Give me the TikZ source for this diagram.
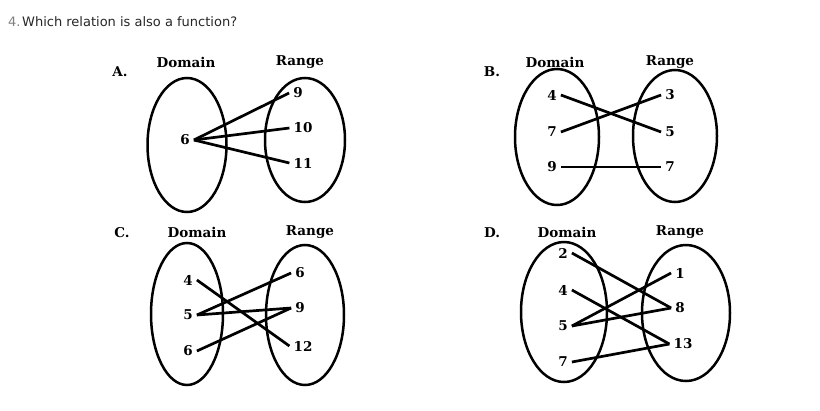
\documentclass[tikz,border=0pt]{standalone}
\usepackage{fontspec}
\newfontfamily\titlefont{DejaVu Sans}
\newfontfamily\lblfont{DejaVu Serif}
\begin{document}
\begin{tikzpicture}[x=1pt,y=-1pt,
  lbl/.style={font=\lblfont\bfseries\fontsize{13.5}{16}\selectfont, inner sep=4pt},
  set/.style={line width=2.5pt},
  map/.style={line width=2.7pt}]
  \useasboundingbox (0,0) rectangle (820,410);
  %%%%% TITLE %%%%%
  \node[anchor=west, inner sep=0, font=\titlefont\fontsize{13}{15}\selectfont, text=black!50] (qnum) at (8,22) {4.};
  \node[anchor=west, inner sep=0, font=\titlefont\fontsize{13}{15}\selectfont, text=black!85] (qtext) at (22,22) {Which relation is also a function?};

  %%%%% A %%%%%
  \node[lbl] (Alet) at (120,72) {A.};
  \node[lbl] (Adom) at (186,62) {Domain};
  \node[lbl] (Aran) at (300,62) {Range};
  \draw[set] (187,145) ellipse [x radius=39.5pt, y radius=67pt];
  \draw[set] (305,140) ellipse [x radius=40pt, y radius=62pt];
  \node[lbl] (A6) at (185,140) {6};
  \node[lbl] (A9) at (298,93) {9};
  \node[lbl] (A10) at (303,128) {10};
  \node[lbl] (A11) at (303,163) {11};
  \draw[map] (A6.east) -- (A9.west);
  \draw[map] (A6.east) -- (A10.west);
  \draw[map] (A6.east) -- (A11.west);

  %%%%% B %%%%%
  \node[lbl] (Blet) at (492,72) {B.};
  \node[lbl] (Bdom) at (555,62) {Domain};
  \node[lbl] (Bran) at (670,62) {Range};
  \draw[set] (557,137) ellipse [x radius=42pt, y radius=68pt];
  \draw[set] (675,136) ellipse [x radius=42pt, y radius=66pt];
  \node[lbl] (B4) at (552,95) {4};
  \node[lbl] (B7) at (552,132) {7};
  \node[lbl] (B9) at (552,167) {9};
  \node[lbl] (Br3) at (670,95) {3};
  \node[lbl] (Br5) at (670,132) {5};
  \node[lbl] (Br7) at (670,167) {7};
  \draw[map] (B4.east) -- (Br5.west);
  \draw[map] (B7.east) -- (Br3.west);
  \draw[map] (B9.east) -- (Br7.west);

  %%%%% C %%%%%
  \node[lbl] (Clet) at (122,233) {C.};
  \node[lbl] (Cdom) at (197,232) {Domain};
  \node[lbl] (Cran) at (310,232) {Range};
  \draw[set] (187,314) ellipse [x radius=36pt, y radius=71pt];
  \draw[set] (305,315) ellipse [x radius=39pt, y radius=70pt];
  \node[lbl] (C4) at (188,280) {4};
  \node[lbl] (C5) at (188,315) {5};
  \node[lbl] (C6) at (188,351) {6};
  \node[lbl] (Cr6) at (300,273) {6};
  \node[lbl] (Cr9) at (300,308) {9};
  \node[lbl] (Cr12) at (303,346) {12};
  \draw[map] (C4.east) -- (Cr12.west);
  \draw[map] (C5.east) -- (Cr6.west);
  \draw[map] (C5.east) -- (Cr9.west);
  \draw[map] (C6.east) -- (Cr9.west);

  %%%%% D %%%%%
  \node[lbl] (Dlet) at (492,233) {D.};
  \node[lbl] (Ddom) at (567,232) {Domain};
  \node[lbl] (Dran) at (680,232) {Range};
  \draw[set] (564,312) ellipse [x radius=43pt, y radius=70pt];
  \draw[set] (686,313) ellipse [x radius=44pt, y radius=68pt];
  \node[lbl] (D2) at (563,253) {2};
  \node[lbl] (D4) at (563,290) {4};
  \node[lbl] (D5) at (563,326) {5};
  \node[lbl] (D7) at (563,362) {7};
  \node[lbl] (Dr1) at (680,273) {1};
  \node[lbl] (Dr8) at (680,308) {8};
  \node[lbl] (Dr13) at (683,344) {13};
  \draw[map] (D2.east) -- (Dr8.west);
  \draw[map] (D4.east) -- (Dr13.west);
  \draw[map] (D5.east) -- (Dr1.west);
  \draw[map] (D5.east) -- (Dr8.west);
  \draw[map] (D7.east) -- (Dr13.west);
\end{tikzpicture}
\end{document}
